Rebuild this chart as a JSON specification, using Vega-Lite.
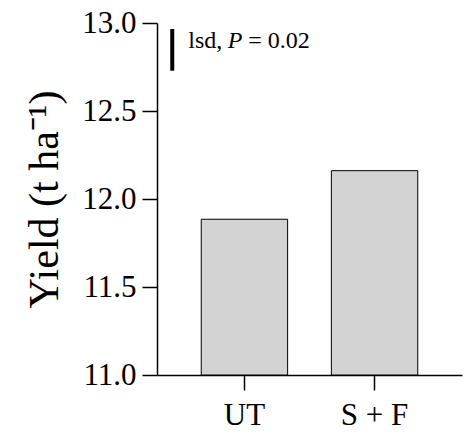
{
  "$schema": "https://vega.github.io/schema/vega-lite/v6.json",
  "autosize": {"type": "none"},
  "padding": {"left": 157, "top": 23, "right": 8, "bottom": 58},
  "width": 305,
  "height": 352,
  "config": {
    "view": {"stroke": null},
    "font": "Liberation Serif",
    "axis": {"grid": false, "domainColor": "black", "tickColor": "black", "labelColor": "black", "titleColor": "black", "labelFont": "Liberation Serif", "titleFont": "Liberation Serif"}
  },
  "datasets": {
    "bars": [
      {"treatment": "UT", "yield": 11.885},
      {"treatment": "S + F", "yield": 12.161}
    ],
    "lsd": [
      {"pos": 0.05, "top": 12.966, "bottom": 12.729}
    ]
  },
  "layer": [
    {
      "data": {"name": "bars"},
      "mark": {"type": "bar", "fill": "#d3d3d3", "stroke": "black", "strokeWidth": 1},
      "encoding": {
        "x": {
          "field": "treatment", "type": "nominal", "sort": ["UT", "S + F"],
          "scale": {"paddingInner": 0.336, "paddingOuter": 0.34},
          "axis": {"title": null, "labelAngle": 0, "labelFontSize": 31, "labelPadding": 10, "tickSize": 15, "tickWidth": 1.5, "domainWidth": 1.5}
        },
        "y": {
          "field": "yield", "type": "quantitative",
          "scale": {"domain": [11, 13], "zero": false, "nice": false},
          "axis": {"title": "Yield (t ha⁻¹)", "titleFontSize": 42, "titleFontWeight": "normal", "titlePadding": 15, "values": [11, 11.5, 12, 12.5, 13], "format": ".1f", "labelFontSize": 31, "labelPadding": 6, "tickSize": 15, "tickWidth": 1.5, "domainWidth": 1.5}
        },
        "y2": {"datum": 11}
      }
    },
    {
      "data": {"name": "lsd"},
      "mark": {"type": "rule", "strokeWidth": 4, "color": "black"},
      "encoding": {
        "x": {"field": "pos", "type": "quantitative", "scale": {"domain": [0, 1]}, "axis": null},
        "y": {"field": "top", "type": "quantitative"},
        "y2": {"field": "bottom"}
      }
    },
    {
      "data": {"name": "lsd"},
      "mark": {"type": "text", "text": "lsd,", "fontSize": 24, "align": "left", "baseline": "alphabetic", "dx": 16, "color": "black"},
      "encoding": {
        "x": {"field": "pos", "type": "quantitative", "scale": {"domain": [0, 1]}, "axis": null},
        "y": {"datum": 12.858}
      }
    },
    {
      "data": {"name": "lsd"},
      "mark": {"type": "text", "text": "P", "fontSize": 24, "fontStyle": "italic", "align": "left", "baseline": "alphabetic", "dx": 55.5, "color": "black"},
      "encoding": {
        "x": {"field": "pos", "type": "quantitative", "scale": {"domain": [0, 1]}, "axis": null},
        "y": {"datum": 12.858}
      }
    },
    {
      "data": {"name": "lsd"},
      "mark": {"type": "text", "text": "= 0.02", "fontSize": 24, "align": "left", "baseline": "alphabetic", "dx": 76, "color": "black"},
      "encoding": {
        "x": {"field": "pos", "type": "quantitative", "scale": {"domain": [0, 1]}, "axis": null},
        "y": {"datum": 12.858}
      }
    }
  ],
  "resolve": {"scale": {"x": "independent"}, "axis": {"x": "independent"}}
}
